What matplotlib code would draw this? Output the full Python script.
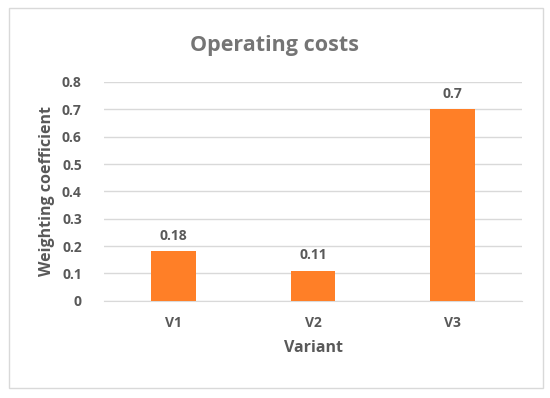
import matplotlib.pyplot as plt
from matplotlib.patches import Rectangle

variants = ["V1", "V2", "V3"]
weights = [0.18, 0.11, 0.7]
y_ticks = [0, 0.1, 0.2, 0.3, 0.4, 0.5, 0.6, 0.7, 0.8]
y_tick_labels = ["0", "0.1", "0.2", "0.3", "0.4", "0.5", "0.6", "0.7", "0.8"]

plt.rcParams['font.family'] = ['Open Sans', 'DejaVu Sans']
grey = '#595959'

fig = plt.figure(figsize=(5.5, 3.98), dpi=100)
ax = fig.add_axes([104 / 550, 1 - 300.7 / 398, 418 / 550, (300.7 - 82) / 398])

# chart border
fig.patches.append(Rectangle((9 / 550, 1 - 388 / 398), 534 / 550, 380 / 398,
                             transform=fig.transFigure, fill=False,
                             edgecolor='#d9d9d9', linewidth=1))

x = range(len(variants))
bars = ax.bar(x, weights, width=0.32, color='#FF7F27', zorder=3)
for b, v in zip(bars, weights):
    ax.text(b.get_x() + b.get_width() / 2, v + 0.03, f"{v:g}", ha='center', va='bottom',
            fontsize=10, fontweight='bold', color=grey)

ax.set_xlim(-0.5, 2.5)
ax.set_ylim(0, 0.8)
ax.set_yticks(y_ticks)
ax.set_yticklabels(y_tick_labels)
ax.set_xticks(list(x))
ax.set_xticklabels(variants)
ax.tick_params(axis='both', length=0, labelsize=10, labelcolor=grey)
ax.tick_params(axis='y', pad=16)
ax.tick_params(axis='x', pad=11)
for lbl in ax.get_xticklabels() + ax.get_yticklabels():
    lbl.set_fontweight('bold')

ax.grid(axis='y', color='#d9d9d9', linewidth=1, zorder=0)
for s in ['top', 'right', 'left']:
    ax.spines[s].set_visible(False)
ax.spines['bottom'].set_color('#d9d9d9')

ax.set_xlabel("Variant", fontsize=11.5, fontweight='bold', color=grey, labelpad=7)
ax.set_ylabel("Weighting coefficient", fontsize=11.5, fontweight='bold', color=grey, labelpad=5)
fig.text(0.5, 1 - 45 / 398, "Operating costs", ha='center', va='center',
         fontsize=15.5, fontweight='bold', color='#757575')

fig.savefig("out.png", dpi=100)
